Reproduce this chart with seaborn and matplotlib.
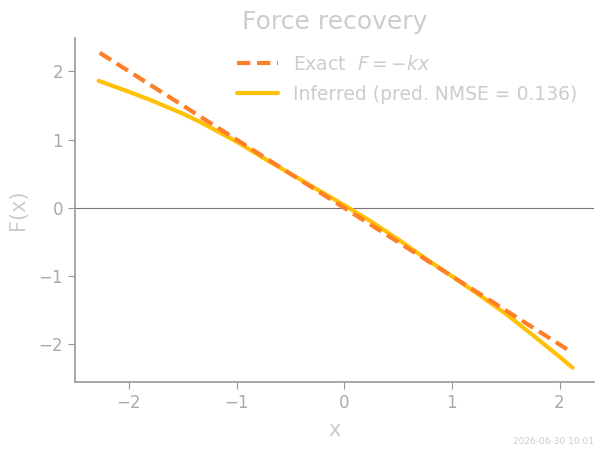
import numpy as np
import pandas as pd
import matplotlib
matplotlib.use('Agg')
import matplotlib.pyplot as plt
import seaborn as sns

sns.set_style('ticks')
plt.rcParams['font.family'] = ['DejaVu Sans']

# data
x_exact = [-2.27, 2.10]
f_exact = [2.27, -2.10]

x_inf = [-2.28, -2.0, -1.8, -1.5, -1.34, -1.0, -0.75, -0.5, -0.25, 0.0,
         0.25, 0.5, 0.8, 1.0, 1.25, 1.5, 1.75, 2.0, 2.12]
f_inf = [1.86, 1.70, 1.58, 1.38, 1.26, 0.97, 0.73, 0.50, 0.27, 0.04,
         -0.20, -0.46, -0.79, -1.00, -1.27, -1.55, -1.86, -2.18, -2.34]

exact = pd.DataFrame({'x': x_exact, 'F': f_exact})
inferred = pd.DataFrame({'x': x_inf, 'F': f_inf})

txt = '#cccccc'
tick_c = '#aaaaaa'

fig = plt.figure(figsize=(6, 4.5), dpi=100)
ax = fig.add_axes([0.125, 0.151, 0.865, 0.765])

ax.axhline(0, color='#777777', lw=0.8, zorder=1)
sns.lineplot(data=exact, x='x', y='F', ax=ax, color='#ff7f27', lw=3,
             linestyle=(0, (3.2, 1.6)), label='Exact  $F = -kx$', zorder=3)
sns.lineplot(data=inferred, x='x', y='F', ax=ax, color='#ffc107', lw=3,
             label='Inferred (pred. NMSE = 0.136)', zorder=2)

ax.set_xlim(-2.5, 2.32)
ax.set_ylim(-2.55, 2.49)
ax.set_xticks([-2, -1, 0, 1, 2])
ax.set_yticks([-2, -1, 0, 1, 2])
ax.set_xlabel('x', color=txt, fontsize=15, labelpad=6)
ax.set_ylabel('F(x)', color=txt, fontsize=15, labelpad=8)
ax.set_title('Force recovery', color=txt, fontsize=18)

for s in ['top', 'right']:
    ax.spines[s].set_visible(False)
for s in ['left', 'bottom']:
    ax.spines[s].set_color('#999999')
    ax.spines[s].set_linewidth(1.2)
ax.tick_params(colors='#999999', labelcolor=tick_c, labelsize=12, length=5)

leg = ax.legend(loc='upper right', frameon=False, fontsize=13.5, handlelength=2.2,
                labelspacing=0.6)
for t in leg.get_texts():
    t.set_color(txt)

fig.text(0.99, 0.01, '2026-06-30 10:01', ha='right', va='bottom', fontsize=6.5, color=txt)

fig.savefig('out.png', dpi=100)
